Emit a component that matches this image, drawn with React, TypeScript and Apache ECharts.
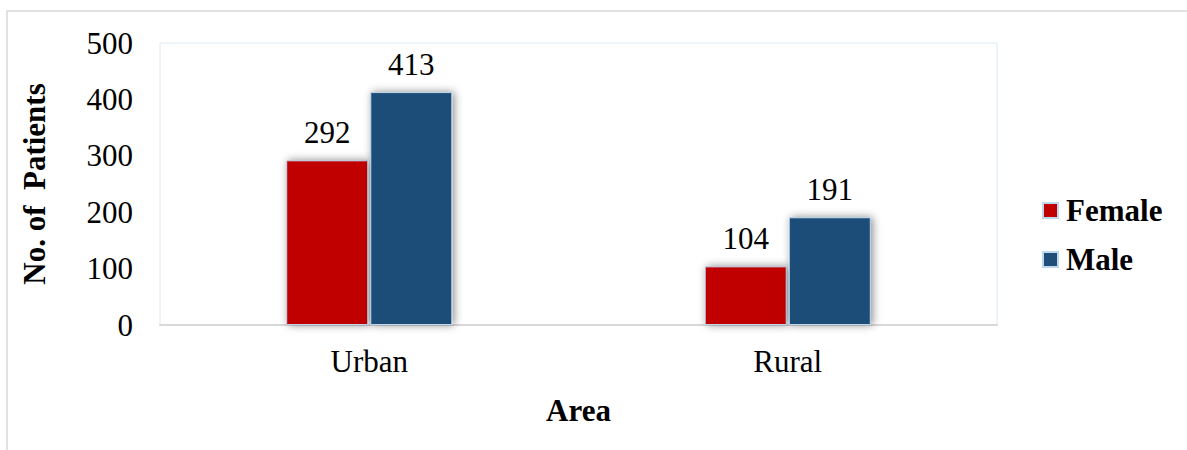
import React, { useEffect, useRef } from "react";
import * as echarts from "echarts";

const categories = ["Urban", "Rural"];
const femaleValues = [292, 104];
const maleValues = [413, 191];
const seriesNames = ["Female", "Male"];

export default function App() {
  const ref = useRef<HTMLDivElement>(null);
  useEffect(() => {
    const chart = echarts.init(ref.current!, undefined, { renderer: "svg" });
    const font = "Liberation Serif";
    const fs = 31;
    const barStyle = (color: string) => ({
      color,
      borderColor: "#bdd7ee",
      borderWidth: 1,
      shadowColor: "rgba(0,0,0,0.45)",
      shadowBlur: 8,
      shadowOffsetX: 2,
    });
    const label = {
      show: true,
      position: "top" as const,
      distance: 12,
      color: "#000",
      fontFamily: font,
      fontSize: fs,
    };
    chart.setOption({
      animation: false,
      backgroundColor: "#fff",
      graphic: [
        {
          type: "rect",
          shape: { x: 7, y: 11, width: 1200, height: 500 },
          style: { fill: "none", stroke: "#d9d9d9", lineWidth: 1.5 },
          silent: true,
        },
      ],
      grid: {
        left: 160,
        right: 190,
        top: 43,
        bottom: 125,
        show: true,
        borderColor: "#dbe8f5",
        borderWidth: 1,
        backgroundColor: "transparent",
      },
      legend: {
        orient: "vertical",
        left: 1042,
        top: 195,
        padding: 0,
        itemWidth: 15,
        itemHeight: 15,
        itemGap: 18,
        icon: "rect",
        data: seriesNames,
        textStyle: {
          fontFamily: font,
          fontSize: fs,
          fontWeight: "bold",
          color: "#000",
          padding: [0, 0, 0, 3],
        },
      },
      xAxis: {
        type: "category",
        data: categories,
        name: "Area",
        nameLocation: "middle",
        nameGap: 70,
        nameTextStyle: { fontFamily: font, fontSize: fs, fontWeight: "bold", color: "#000" },
        axisLine: { show: true, lineStyle: { color: "#d9d9d9", width: 2 } },
        axisTick: { show: false },
        axisLabel: { margin: 21, fontFamily: font, fontSize: fs, color: "#000" },
      },
      yAxis: {
        type: "value",
        min: 0,
        max: 500,
        interval: 100,
        name: "No. of  Patients",
        nameLocation: "middle",
        nameGap: 110,
        nameRotate: 90,
        nameTextStyle: { fontFamily: font, fontSize: fs, fontWeight: "bold", color: "#000" },
        axisLine: { show: false },
        axisTick: { show: false },
        splitLine: { show: false },
        axisLabel: { margin: 27, fontFamily: font, fontSize: fs, color: "#000" },
      },
      series: [
        {
          name: seriesNames[0],
          type: "bar",
          data: femaleValues,
          barWidth: "19.6%",
          barGap: "2.5%",
          itemStyle: barStyle("#c00000"),
          label,
        },
        {
          name: seriesNames[1],
          type: "bar",
          data: maleValues,
          barWidth: "19.6%",
          itemStyle: barStyle("#1f4e79"),
          label,
        },
      ],
    });
    return () => chart.dispose();
  }, []);
  return (
    <div
      ref={ref}
      style={{ position: "absolute", left: 0, top: 0, width: 1187, height: 450 }}
    />
  );
}
